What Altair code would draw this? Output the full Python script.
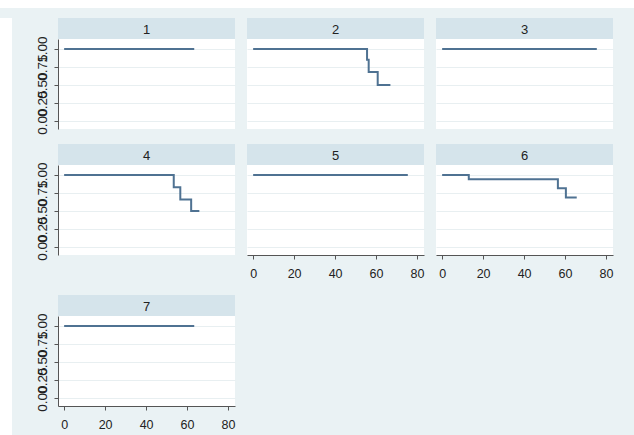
import altair as alt
import pandas as pd

# Kaplan-Meier survival estimates by group (analysis time, survivor function)
g1_time = [0, 63.5]
g1_surv = [1.0, 1.0]
g2_time = [0, 55.6, 56.4, 60.8, 67.0]
g2_surv = [1.0, 0.85, 0.68, 0.5, 0.5]
g3_time = [0, 75.5]
g3_surv = [1.0, 1.0]
g4_time = [0, 53.5, 56.7, 62.0, 66.0]
g4_surv = [1.0, 0.83, 0.66, 0.5, 0.5]
g5_time = [0, 75.5]
g5_surv = [1.0, 1.0]
g6_time = [0, 13.0, 56.5, 60.4, 65.7]
g6_surv = [1.0, 0.94, 0.815, 0.686, 0.686]
g7_time = [0, 63.5]
g7_surv = [1.0, 1.0]

groups = [1, 2, 3, 4, 5, 6, 7]
x_ticks = [0, 20, 40, 60, 80]
y_ticks = [0, 0.25, 0.5, 0.75, 1.0]

series = {
    1: (g1_time, g1_surv), 2: (g2_time, g2_surv), 3: (g3_time, g3_surv),
    4: (g4_time, g4_surv), 5: (g5_time, g5_surv), 6: (g6_time, g6_surv),
    7: (g7_time, g7_surv),
}
rows = []
for g, (ts, ss) in series.items():
    for t, s in zip(ts, ss):
        rows.append({"group": g, "time": t, "surv": s})
df = pd.DataFrame(rows)

FONT = "Liberation Sans"
BG = "#eaf2f4"
HEAD = "#d5e4eb"
GRID = "#e8eff1"
AXC = "#555555"
TXT = "#222222"
LINE = "#4f7292"
W, PH, HH = 177, 90, 21

xscale = alt.Scale(domain=[-3, 83.4], nice=False, zero=False)
yscale = alt.Scale(domain=[-0.111, 1.139], nice=False, zero=False)


def panel(g, show_x, show_y):
    if show_y:
        yaxis = alt.Axis(values=y_ticks, format=".2f", labelAngle=270,
                         labelAlign="center", labelBaseline="bottom",
                         labelPadding=5, tickSize=4, grid=True, gridColor=GRID,
                         domainColor=AXC, tickColor=AXC, labelColor=TXT,
                         labelFont=FONT, labelFontSize=13.5, labelOverlap=False,
                         labelFlush=False, title=None)
    else:
        yaxis = alt.Axis(values=y_ticks, grid=True, gridColor=GRID, labels=False,
                         ticks=False, domain=False, title=None)
    if show_x:
        xenc = alt.X("time:Q", scale=xscale,
                     axis=alt.Axis(values=x_ticks, format="d", grid=False,
                                   tickSize=4, labelPadding=8, domainColor=AXC,
                                   tickColor=AXC, labelColor=TXT, labelFont=FONT,
                                   labelFontSize=12.5, labelFlush=False,
                                   title=None))
    else:
        xenc = alt.X("time:Q", scale=xscale, axis=None)

    line = (
        alt.Chart(df)
        .transform_filter(alt.datum.group == g)
        .mark_line(interpolate="step-after", color=LINE, strokeWidth=2)
        .encode(x=xenc, y=alt.Y("surv:Q", scale=yscale, axis=yaxis))
        .properties(width=W, height=PH)
    )
    header = (
        alt.Chart(pd.DataFrame({"label": [str(g)]}))
        .mark_text(font=FONT, fontSize=13, color=TXT)
        .encode(text="label:N", x=alt.value(W / 2), y=alt.value(HH / 2 + 1))
        .properties(width=W, height=HH,
                    view=alt.ViewBackground(fill=HEAD, strokeWidth=0))
    )
    return alt.vconcat(header, line, spacing=0, bounds="flush")


row1 = alt.hconcat(panel(1, False, True), panel(2, False, False),
                   panel(3, False, False), spacing=12)
row2 = alt.hconcat(panel(4, False, True), panel(5, True, False),
                   panel(6, True, False), spacing=12)
row3 = panel(7, True, True)
grid = alt.vconcat(alt.vconcat(row1, row2, spacing=9), row3, spacing=15)

blank = pd.DataFrame({"v": [0]})
left_strip = (
    alt.Chart(blank).mark_point(opacity=0, size=0)
    .encode(x=alt.value(0), y=alt.value(0))
    .properties(width=12, height=427)
)
top_strip = (
    alt.Chart(blank).mark_point(opacity=0, size=0)
    .encode(x=alt.value(0), y=alt.value(0))
    .properties(width=634, height=8)
)

chart = (
    alt.vconcat(top_strip, alt.hconcat(left_strip, grid, spacing=22), spacing=10)
    .properties(background=BG,
                padding={"left": 0, "top": 0, "right": 0, "bottom": 3})
    .configure_view(fill="white", strokeWidth=0)
)

chart.save("out.html", embed_options={"renderer": "svg", "actions": False})
